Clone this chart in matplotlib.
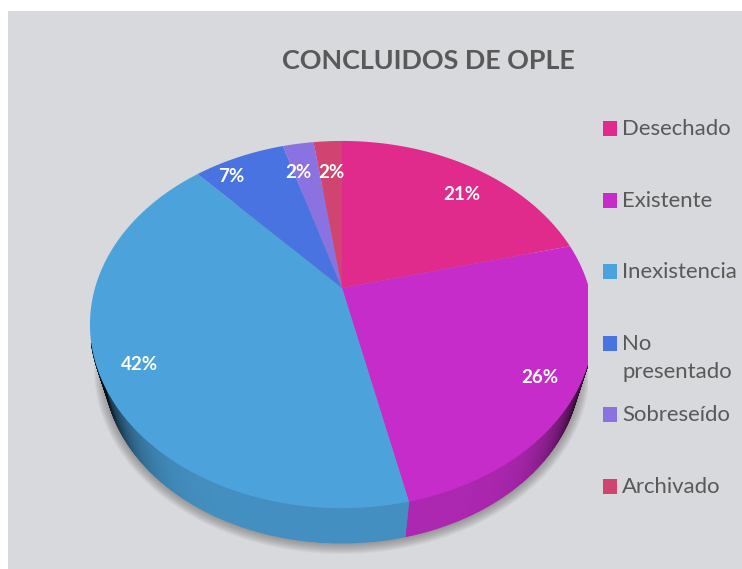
import numpy as np
import matplotlib
matplotlib.use("Agg")
import matplotlib.pyplot as plt
from matplotlib.colors import to_rgb
from matplotlib.patches import Ellipse, Rectangle

plt.rcParams["font.family"] = ["Lato", "DejaVu Sans"]

title = "CONCLUIDOS DE OPLE"
categories = ["Desechado", "Existente", "Inexistencia", "No\npresentado", "Sobreseído", "Archivado"]
values = [21.0, 25.5, 41.8, 7.1, 2.4, 2.2]
colors = ["#e02b8c", "#c52cc9", "#4ca3dc", "#4873e1", "#8a72e0", "#cf4470"]
label_pos = [(462, 194), (540, 377), (140, 364), (231, 176), (298, 172), (331, 172)]
legend_y = [129, 201, 272, 344, 415, 487]

# perspective of the pie: apex sits above the centre of the ellipse
CX, APEX_Y, K, A, B = 342, 288, 0.199, 119, 247
TOP_CY, TOP_RX, TOP_RY = 324.6, 252, 183.5
LOW_CY, LOW_RX, LOW_RY = 368, 238, 175


def rim(theta):
    # theta in radians, clockwise from the top
    x, y = np.sin(theta), np.cos(theta)
    w = 1 + K * y
    return CX + B * x / w, (APEX_Y - A * y) / w


fig = plt.figure(figsize=(7.42, 5.69), dpi=100)
ax = fig.add_axes([0, 0, 1, 1])
ax.set_xlim(0, 742)
ax.set_ylim(569, 0)
ax.axis("off")

ax.add_patch(Rectangle((8, 11), 734, 558, fc="#d8d9dc", ec="none", zorder=0))
clip = Rectangle((0, 0), 588, 569, transform=ax.transData)

# soft shadow under the pie
for i in range(12):
    e = Ellipse((CX, LOW_CY + 1), 2 * (LOW_RX + 10 - i), 2 * (LOW_RY + 10 - i), fc="#555555", ec="none", alpha=0.055, zorder=1)
    ax.add_patch(e)
    e.set_clip_path(clip)

edges = np.cumsum([0] + values) / sum(values) * 2 * np.pi

# side wall, darker towards both ends
for s, c in enumerate(colors):
    thetas = np.linspace(edges[s], edges[s + 1], int(values[s] * 12) + 2)
    xs, ys = rim(thetas)
    a = np.arctan2((ys - TOP_CY) / TOP_RY, (xs - CX) / TOP_RX)
    for i in range(len(a) - 1):
        if np.sin(a[i]) < 0.1 or np.sin(a[i + 1]) < 0.1:
            continue
        u = abs(np.cos((a[i] + a[i + 1]) / 2))
        shade = 0.88 * (1 - u**8)
        col = tuple(v * shade for v in to_rgb(c))
        px = [xs[i], xs[i + 1], CX + LOW_RX * np.cos(a[i + 1]), CX + LOW_RX * np.cos(a[i])]
        py = [ys[i], ys[i + 1], LOW_CY + LOW_RY * np.sin(a[i + 1]), LOW_CY + LOW_RY * np.sin(a[i])]
        poly = ax.fill(px, py, fc=col, ec=col, lw=0.6, zorder=2)[0]
        poly.set_clip_path(clip)

# top face
for s, c in enumerate(colors):
    thetas = np.linspace(edges[s], edges[s + 1], int(values[s] * 12) + 2)
    xs, ys = rim(thetas)
    poly = ax.fill(np.r_[CX, xs], np.r_[APEX_Y, ys], fc=c, ec="none", zorder=3)[0]
    poly.set_clip_path(clip)

for v, (x, y) in zip(values, label_pos):
    ax.text(x, y, f"{round(v)}%", color="white", fontsize=13.5, fontweight="bold", ha="center", va="center", zorder=5)

ax.text(428, 61, title, color="#595959", fontsize=19.4, fontweight="bold", ha="center", va="center", zorder=5)

for name, y, c in zip(categories, legend_y, colors):
    ax.add_patch(Rectangle((603, y - 8), 14, 14.5, fc=c, ec="none", zorder=5))
    if "\n" in name:
        ax.text(622, y - 10, name, color="#595959", fontsize=15.9, ha="left", va="top", linespacing=1.5, zorder=5)
    else:
        ax.text(622, y, name, color="#595959", fontsize=15.9, ha="left", va="center", zorder=5)

fig.savefig("out.png", dpi=100, facecolor="white")
